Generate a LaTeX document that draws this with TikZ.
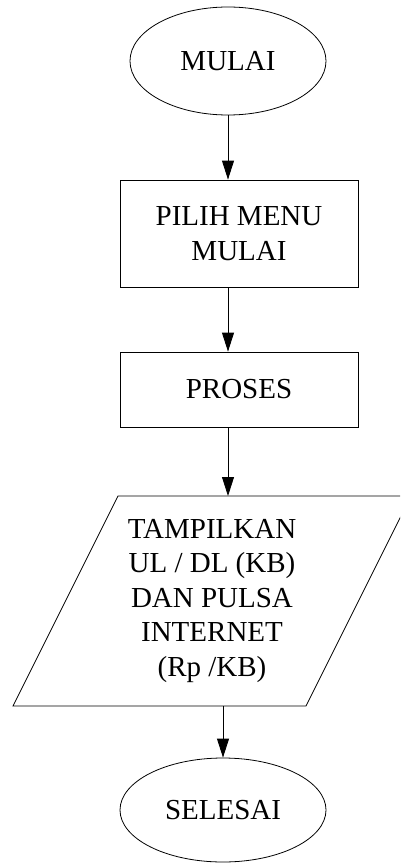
\documentclass[tikz,border=0pt]{standalone}
\usepackage{fontspec}
\setmainfont{Liberation Serif}
\usetikzlibrary{shapes.geometric,arrows.meta}
\begin{document}
\begin{tikzpicture}[x=1pt,y=-1pt,
  every node/.style={font=\fontsize{29}{34.5}\selectfont, align=center, inner sep=0pt},
  terminal/.style={draw, ellipse, line width=0.8pt},
  procbox/.style={draw, rectangle, line width=0.8pt},
  flow/.style={draw, line width=0.8pt, -{Triangle[length=19pt,width=12pt]}}]
  \clip (0,0) rectangle (400,864);
  \useasboundingbox (0,0) rectangle (400,864);

  % start / end terminals
  \node[terminal, minimum width=196pt, minimum height=108pt] (mulai) at (228,61) {MULAI};
  \node[terminal, minimum width=206pt, minimum height=104pt] (selesai) at (223,810) {SELESAI};

  % process boxes
  \node[procbox, minimum width=238pt, minimum height=107pt] (pilih) at (239,233.5) {PILIH MENU\\MULAI};
  \node[procbox, minimum width=238pt, minimum height=75pt] (proses) at (239,389.5) {PROSES};

  % output parallelogram
  \coordinate (ioTL) at (118,496);
  \coordinate (ioTR) at (411,496);
  \coordinate (ioBR) at (306,706);
  \coordinate (ioBL) at (13,706);
  \draw[line width=0.8pt] (ioTL) -- (ioTR) -- (ioBR) -- (ioBL) -- cycle;
  \node (io) at (212,601) {TAMPILKAN\\UL / DL (KB)\\DAN PULSA\\INTERNET\\(Rp /KB)};
  \coordinate (ioTop) at (228,496);
  \coordinate (ioBot) at (223,706);

  % connectors
  \draw[flow] (mulai.south) -- (mulai.south |- pilih.north);
  \draw[flow] (mulai.south |- pilih.south) -- (mulai.south |- proses.north);
  \draw[flow] (mulai.south |- proses.south) -- (ioTop);
  \draw[flow] (ioBot) -- (selesai.north);
\end{tikzpicture}
\end{document}
